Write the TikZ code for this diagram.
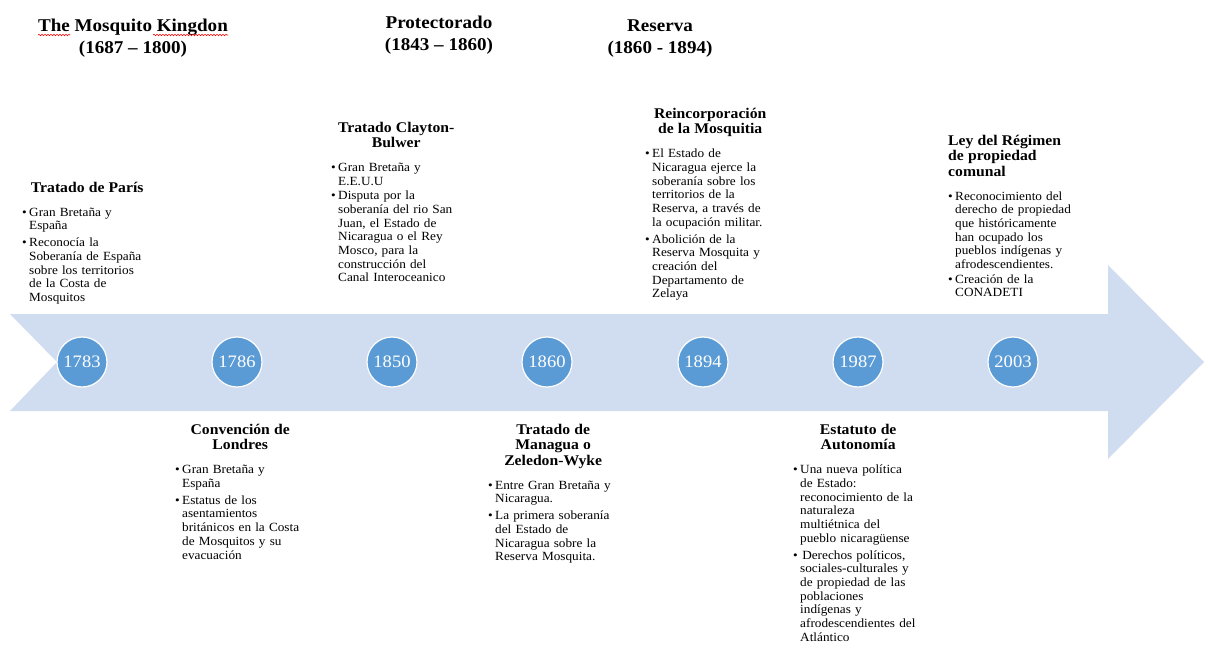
\documentclass[tikz,border=0pt]{standalone}
\usepackage{fontspec}
\setmainfont{Liberation Serif}[FakeStretch=1.06]
\usetikzlibrary{decorations.pathmorphing}
\definecolor{arrowfill}{RGB}{208,220,239}
\definecolor{dotblue}{RGB}{91,155,213}
\tikzset{
  body/.style={text width=130pt, inner sep=0pt, anchor=north west,
    font=\fontsize{12.5}{13.7}\selectfont},
  yearnode/.style={circle, fill=dotblue, draw=white, line width=1.2pt,
    minimum size=50pt, inner sep=0pt, text=white, font=\fontsize{17.5}{17.5}\selectfont},
  header/.style={align=center, inner sep=0pt, anchor=north,
    font=\bfseries\fontsize{18}{21.5}\selectfont},
  spell/.style={red, line width=0.6pt, decorate,
    decoration={snake, amplitude=0.7pt, segment length=3pt}},
}
\newcommand{\ttl}[1]{{\centering\bfseries\fontsize{14.8}{15.5}\selectfont #1\par}\vspace{10pt}}
\newcommand{\ttlleft}[1]{{\raggedright\bfseries\fontsize{14.8}{15.5}\selectfont #1\par}\vspace{10pt}}
\newcommand{\itm}[1]{\noindent\makebox[7pt][l]{\textbullet}\parbox[t]{123pt}{\raggedright #1}\par}
\newcommand{\gap}{\vspace{4.5pt}}
\begin{document}
\begin{tikzpicture}[x=1pt,y=-1pt]
\path[use as bounding box] (0,0) rectangle (1208,650);
% arrow
\fill[arrowfill] (10,314) -- (1108,314) -- (1108,265) -- (1204,362) -- (1108,459)
  -- (1108,411) -- (10,411) -- (57,362) -- cycle;
% headers
\node[header] (hdr1) at (133,19) {The Mosquito Kingdon\\(1687 -- 1800)};
\node[header] (hdr2) at (439,16) {Protectorado\\(1843 -- 1860)};
\node[header] (hdr3) at (660,20) {Reserva\\(1860 - 1894)};
\draw[spell] (38,35) -- (70,35);
\draw[spell] (153,35) -- (228,35);
% years
\node[yearnode] (y1783) at (82,362) {1783};
\node[yearnode] (y1786) at (237,362) {1786};
\node[yearnode] (y1850) at (392,362) {1850};
\node[yearnode] (y1860) at (547,362) {1860};
\node[yearnode] (y1894) at (703,362) {1894};
\node[yearnode] (y1987) at (858,362) {1987};
\node[yearnode] (y2003) at (1013,362) {2003};
% upper blocks
\node[body] (paris) at (22,182) {\ttl{Tratado de París}%
  \itm{Gran Bretaña y\\España}\gap
  \itm{Reconocía la\\Soberanía de España\\sobre los territorios\\de la Costa de\\Mosquitos}};
\node[body] (clayton) at (331,122) {\ttl{Tratado Clayton-\\Bulwer}%
  \itm{Gran Bretaña y\\E.E.U.U}\gap
  \itm{Disputa por la\\soberanía del rio San\\Juan, el Estado de\\Nicaragua o el Rey\\Mosco, para la\\construcción del\\Canal Interoceanico}};
\node[body] (reinc) at (645,108) {\ttl{Reincorporación\\de la Mosquitia}%
  \itm{El Estado de\\Nicaragua ejerce la\\soberanía sobre los\\territorios de la\\Reserva, a través de\\la ocupación militar.}\gap
  \itm{Abolición de la\\Reserva Mosquita y\\creación del\\Departamento de\\Zelaya}};
\node[body] (ley) at (948,135) {\ttlleft{Ley del Régimen\\de propiedad\\comunal}%
  \itm{Reconocimiento del\\derecho de propiedad\\que históricamente\\han ocupado los\\pueblos indígenas y\\afrodescendientes.}\gap
  \itm{Creación de la\\CONADETI}};
% lower blocks
\node[body] (londres) at (175,424) {\ttl{Convención de\\Londres}%
  \itm{Gran Bretaña y\\España}\gap
  \itm{Estatus de los\\asentamientos\\británicos en la Costa\\de Mosquitos y su\\evacuación}};
\node[body] (managua) at (488,424) {\ttl{Tratado de\\Managua o\\Zeledon-Wyke}%
  \itm{Entre Gran Bretaña y\\Nicaragua.}\gap
  \itm{La primera soberanía\\del Estado de\\Nicaragua sobre la\\Reserva Mosquita.}};
\node[body] (estatuto) at (793,424) {\ttl{Estatuto de\\Autonomía}%
  \itm{Una nueva política\\de Estado:\\reconocimiento de la\\naturaleza\\multiétnica del\\pueblo nicaragüense}\gap
  \itm{\,Derechos políticos,\\sociales-culturales y\\de propiedad de las\\poblaciones\\indígenas y\\afrodescendientes del\\Atlántico}};
\end{tikzpicture}
\end{document}
